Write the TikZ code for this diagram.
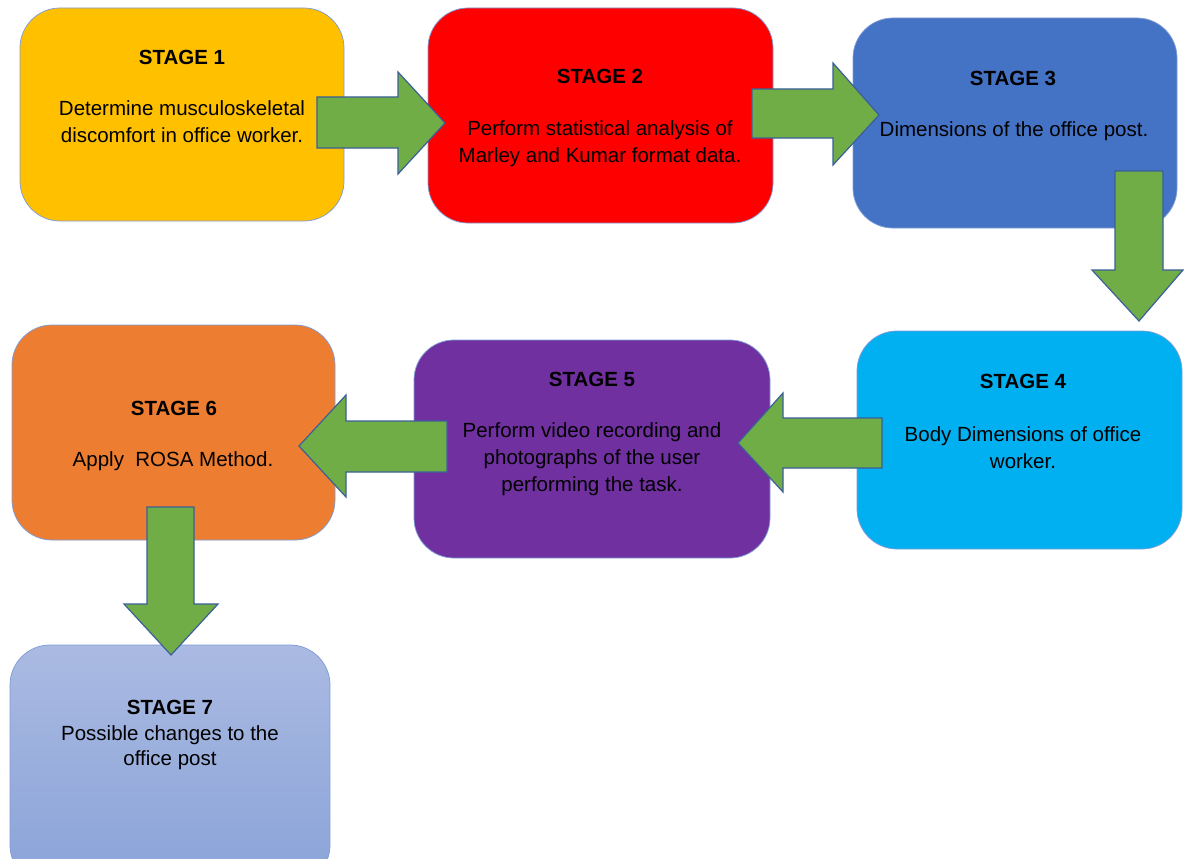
\documentclass[tikz,border=0pt]{standalone}
\usepackage{fontspec}
\setmainfont{Liberation Sans}
\definecolor{stageone}{HTML}{FFC000}
\definecolor{stagetwo}{HTML}{FF0000}
\definecolor{stagethree}{HTML}{4472C4}
\definecolor{stagefour}{HTML}{00B0F0}
\definecolor{stagefive}{HTML}{7030A0}
\definecolor{stagesix}{HTML}{ED7D31}
\definecolor{stagesevtop}{HTML}{AABAE2}
\definecolor{stagesevbot}{HTML}{8AA3D8}
\definecolor{boxline}{HTML}{7F9DD6}
\definecolor{arrowgreen}{HTML}{70AD47}
\definecolor{arrowline}{HTML}{3B5F98}
\tikzset{
  stagebox/.style={rectangle, rounded corners=40pt, draw=boxline, line width=0.75pt},
  stagetitle/.style={font=\fontsize{20.5}{27}\selectfont\bfseries},
  stagetext/.style={font=\fontsize{20.5}{27}\selectfont, align=center},
  blockarrow/.style={fill=arrowgreen, draw=arrowline, line width=1.2pt, line join=miter}
}
\begin{document}
\begin{tikzpicture}[x=1pt,y=-1pt]

\clip (0,0) rectangle (1184,859);

% stage boxes
\node[stagebox, fill=stageone, minimum width=324pt, minimum height=213pt] (s1) at (182,114.5) {};
\node[stagebox, fill=stagetwo, minimum width=345pt, minimum height=215pt] (s2) at (600.5,115.5) {};
\node[stagebox, fill=stagethree, minimum width=324pt, minimum height=210pt] (s3) at (1015,123) {};
\node[stagebox, fill=stagefour, minimum width=325pt, minimum height=218pt] (s4) at (1019.5,440) {};
\node[stagebox, fill=stagefive, minimum width=356pt, minimum height=218pt] (s5) at (592,449) {};
\node[stagebox, fill=stagesix, minimum width=323pt, minimum height=215pt] (s6) at (173.5,432.5) {};
\node[stagebox, top color=stagesevtop, bottom color=stagesevbot, minimum width=320pt, minimum height=240pt] (s7) at (170,765) {};

% arrows
\draw[blockarrow] (317,97)--(398,97)--(398,72)--(445,123)--(398,174)--(398,148)--(317,148)--cycle;
\draw[blockarrow] (752,89)--(833,89)--(833,63)--(879,115)--(833,165)--(833,138)--(752,138)--cycle;
\draw[blockarrow] (1115,171)--(1163,171)--(1163,270)--(1183,270)--(1139,321)--(1092,270)--(1115,270)--cycle;
\draw[blockarrow] (882,418)--(783,418)--(783,393)--(738,443)--(783,492)--(783,468)--(882,468)--cycle;
\draw[blockarrow] (447,421)--(346,421)--(346,395)--(299,446)--(346,497)--(346,472)--(447,472)--cycle;
\draw[blockarrow] (147,507)--(194,507)--(194,604)--(218,604)--(171,655)--(124,604)--(147,604)--cycle;

% texts
\node[stagetitle] (h1) at (182,57) {STAGE 1};
\node[stagetext] (b1) at (182,121.5) {Determine musculoskeletal\\discomfort in office worker.};

\node[stagetitle] (h2) at (600,76) {STAGE 2};
\node[stagetext] (b2) at (600,143.5) {Perform statistical analysis of\\Marley and Kumar format data.};

\node[stagetitle] (h3) at (1013,78) {STAGE 3};
\node[stagetext] (b3) at (1014,131) {Dimensions of the office post.};

\node[stagetitle] (h4) at (1023,381) {STAGE 4};
\node[stagetext] (b4) at (1023,447.5) {Body Dimensions of office\\worker.};

\node[stagetitle] (h5) at (592,379) {STAGE 5};
\node[stagetext] (b5) at (592,459) {Perform video recording and\\photographs of the user\\performing the task.};

\node[stagetitle] (h6) at (174,408) {STAGE 6};
\node[stagetext] (b6) at (173,461) {Apply\ \ ROSA Method.};

\node[stagetext, font=\fontsize{20.5}{25.5}\selectfont] (b7) at (170,735) {\textbf{STAGE 7}\\Possible changes to the\\office post};

\end{tikzpicture}
\end{document}
